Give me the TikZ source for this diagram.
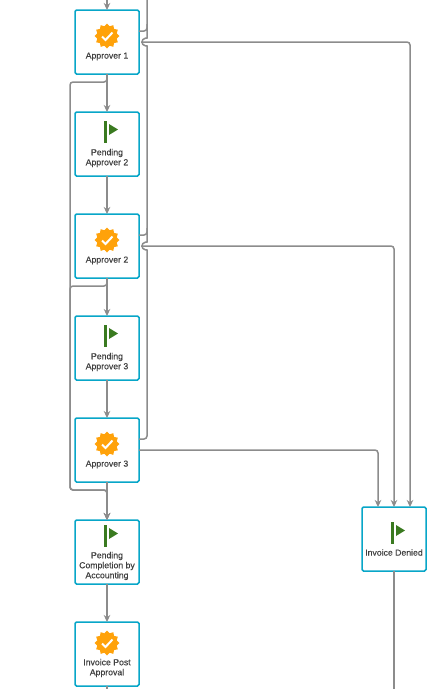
\documentclass[tikz,border=0pt]{standalone}
\usepackage{fontspec}
\setmainfont{Liberation Sans}
\newfontfamily\taskfont[FakeBold=0.2]{Liberation Sans}
\usetikzlibrary{positioning,arrows.meta,shapes.geometric}
\definecolor{boxedge}{HTML}{08A6C8}
\definecolor{linegray}{HTML}{8C8C8C}
\definecolor{badgeorange}{HTML}{FFA20A}
\definecolor{flaggreen}{HTML}{3A7A20}
\tikzset{
  taskbox/.style={draw=boxedge,line width=1.5pt,fill=white,rounded corners=1.5pt,minimum size=64pt,inner sep=0pt,outer sep=0pt},
  tasklabel/.style={align=center,text=black!75,font=\taskfont\fontsize{8.7}{10}\selectfont,inner sep=0pt},
  flowline/.style={draw=linegray,line width=1.5pt,rounded corners=3pt},
  flowarrow/.style={flowline,-{Stealth[length=7pt,width=6.5pt]}},
  badge/.pic={
    \node[star,star points=12,star point ratio=1.25,fill=badgeorange,minimum size=25pt,inner sep=0pt] {};
    \draw[white,line width=2pt] (-5,0.5) -- (-1.5,4) -- (5.5,-3.5);
  },
  flag/.pic={
    \fill[flaggreen] (-3.2,-11) rectangle (-0.4,11);
    \fill[flaggreen] (2,-8) -- (11,-2.5) -- (2,3) -- cycle;
  }
}
\begin{document}
\begin{tikzpicture}[x=1pt,y=-1pt]
\useasboundingbox[fill=white] (0,0) rectangle (445,689);

% Left column
\node[taskbox] (a1) at (107,42) {};
\node[taskbox,below=38pt of a1] (p2) {};
\node[taskbox,below=38pt of p2] (a2) {};
\node[taskbox,below=38pt of a2] (p3) {};
\node[taskbox,below=38pt of p3] (a3) {};
\node[taskbox,below=38pt of a3] (pc) {};
\node[taskbox,below=38pt of pc] (ip) {};

% Right column
\node[taskbox] (den) at (394,539) {};

% Labels
\node[tasklabel] (a1text) at ([yshift=-14.5pt]a1.center) {Approver 1};
\node[tasklabel] (p2text) at ([yshift=-14pt]p2.center) {Pending\\Approver 2};
\node[tasklabel] (a2text) at ([yshift=-14.5pt]a2.center) {Approver 2};
\node[tasklabel] (p3text) at ([yshift=-14pt]p3.center) {Pending\\Approver 3};
\node[tasklabel] (a3text) at ([yshift=-14.5pt]a3.center) {Approver 3};
\node[tasklabel] (pctext) at ([yshift=-14pt]pc.center) {Pending\\Completion by\\Accounting};
\node[tasklabel] (iptext) at ([yshift=-14pt]ip.center) {Invoice Post\\Approval};
\node[tasklabel] (dentext) at ([yshift=-13.5pt]den.center) {Invoice Denied};

% Icons
\pic at ([yshift=6pt]a1.center) {badge};
\pic at ([yshift=12pt]p2.center) {flag};
\pic at ([yshift=6pt]a2.center) {badge};
\pic at ([yshift=12pt]p3.center) {flag};
\pic at ([yshift=6pt]a3.center) {badge};
\pic at ([yshift=16pt]pc.center) {flag};
\pic at ([yshift=11pt]ip.center) {badge};
\pic at ([yshift=6pt]den.center) {flag};

% Free ends
\coordinate (a1in) at (a1 |- 0,0);
\coordinate (spinetop) at (147,0);
\coordinate (ipout) at (ip |- 0,689);
\coordinate (denout) at (den |- 0,689);

% Straight links
\draw[flowarrow] (a1in) -- (a1);
\draw[flowarrow] (a1) -- (p2);
\draw[flowarrow] (p2) -- (a2);
\draw[flowarrow] (a2) -- (p3);
\draw[flowarrow] (p3) -- (a3);
\draw[flowarrow] (a3) -- (pc);
\draw[flowarrow] (pc) -- (ip);
\draw[flowline] (ip) -- (ipout);
\draw[flowline] (den) -- (denout);

% Return lines on the spine
\draw[flowline] ([yshift=11pt]a3.east) -- ([shift={(8,-11)}]a3.east)
  -- ([shift={(8,7)}]a2.east)
  .. controls ([shift={(8,4)}]a2.east) and ([shift={(5,4)}]a2.east) .. ([shift={(2,0)}]a2.east)
  .. controls ([shift={(5,-4)}]a2.east) and ([shift={(8,-4)}]a2.east) .. ([shift={(8,-7)}]a2.east)
  -- ([shift={(8,7)}]a1.east)
  .. controls ([shift={(8,4)}]a1.east) and ([shift={(5,4)}]a1.east) .. ([shift={(2,0)}]a1.east)
  .. controls ([shift={(5,-4)}]a1.east) and ([shift={(8,-4)}]a1.east) .. ([shift={(8,-7)}]a1.east)
  -- (spinetop);
\draw[flowline] ([yshift=11pt]a1.east) -- ([shift={(8,-11)}]a1.east) -- ([shift={(8,-18)}]a1.east);
\draw[flowline] ([yshift=11pt]a2.east) -- ([shift={(8,-11)}]a2.east) -- ([shift={(8,-18)}]a2.east);

% Left bypass into completion
\draw[flowarrow] (a1.south) -- ([yshift=-8pt]a1.south) -| ([xshift=-37pt]a3.south)
  |- ([yshift=-8pt]a3.south) -- (pc.north);
\draw[flowarrow] (a2.south) -- ([yshift=-8pt]a2.south) -| ([xshift=-37pt]a3.south)
  |- ([yshift=-8pt]a3.south) -- (pc.north);

% Denied branches
\draw[flowarrow] ([xshift=2pt]a1.east) -| ([xshift=16pt]den.north);
\draw[flowarrow] ([xshift=2pt]a2.east) -| (den.north);
\draw[flowarrow] (a3.east) -| ([xshift=-16pt]den.north);
\end{tikzpicture}
\end{document}
